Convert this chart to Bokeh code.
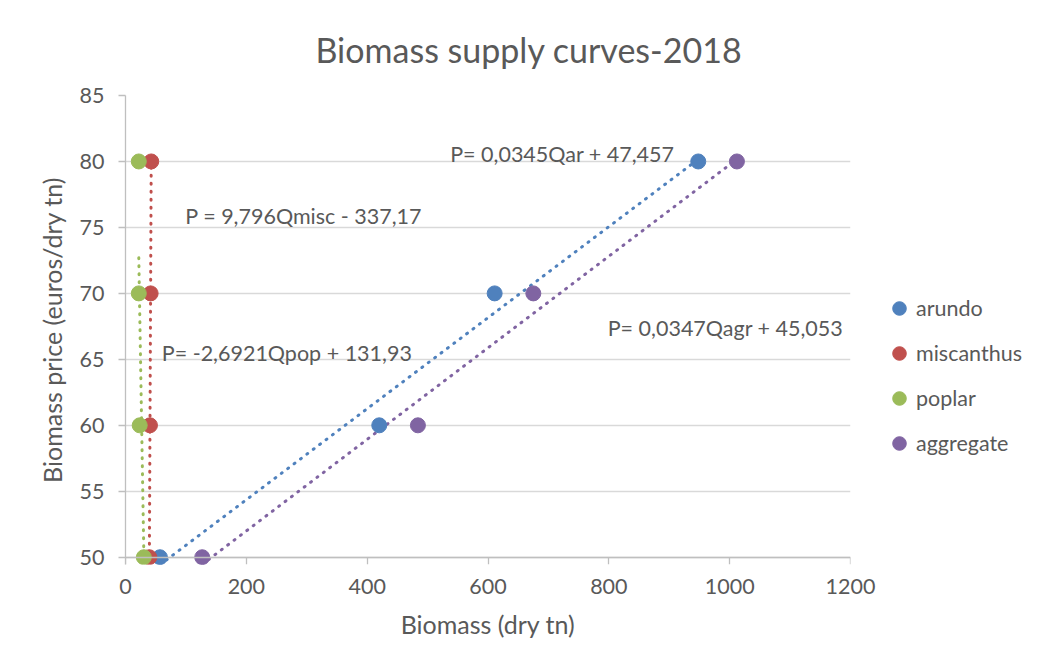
from bokeh.plotting import figure
from bokeh.models import (Range1d, FixedTicker, Label, Legend, LegendItem,
                          LinearAxis, CustomJSTickFormatter)
from bokeh.embed import file_html
from bokeh.resources import INLINE

# ---- data ----
series_names = ["arundo", "miscanthus", "poplar", "aggregate"]
price = [80, 70, 60, 50]
arundo = [948, 611, 420, 57]
miscanthus = [42.6, 41.6, 40.5, 39.5]
poplar = [22, 22, 23.5, 30.3]
aggregate = [1012, 675, 484, 127]
slopes = [0.0345, 9.796, -2.6921, 0.0347]
intercepts = [47.457, -337.17, 131.93, 45.053]
equations = ["P= 0,0345Qar + 47,457", "P = 9,796Qmisc - 337,17",
             "P= -2,6921Qpop + 131,93", "P= 0,0347Qagr + 45,053"]
x_ticks = [0, 200, 400, 600, 800, 1000, 1200]
y_ticks = [50, 55, 60, 65, 70, 75, 80, 85]
title_text = "Biomass supply curves-2018"
x_title = "Biomass (dry tn)"
y_title = "Biomass price (euros/dry tn)"

colors = ["#4F81BD", "#C0504D", "#9BBB59", "#8064A2"]
TXT = "#595959"
FONT = "Lato"
AX = "#BFBFBF"

p = figure(frame_width=725, frame_height=469,
           min_border_left=125, min_border_right=186,
           min_border_top=95, min_border_bottom=104,
           x_range=Range1d(0, 1200), y_range=Range1d(49.45, 85),
           output_backend="svg", toolbar_location=None)
p.outline_line_color = None
p.background_fill_color = "white"
p.border_fill_color = "white"

# title
p.title.text = title_text
p.title.align = "left"
p.title.offset = 190
p.title.text_font = FONT
p.title.text_font_size = "34px"
p.title.text_font_style = "normal"
p.title.text_color = TXT
p.title.standoff = 52

# grid
p.xgrid.visible = False
p.ygrid.ticker = FixedTicker(ticks=y_ticks)
p.ygrid.grid_line_color = "#D9D9D9"
p.ygrid.grid_line_width = 1.3

# y axis
ya = p.yaxis[0]
ya.ticker = FixedTicker(ticks=y_ticks)
ya.axis_line_color = AX
ya.axis_line_width = 1.3
ya.major_tick_line_color = AX
ya.major_tick_line_width = 1.3
ya.major_tick_in = 0
ya.major_tick_out = 7
ya.minor_tick_line_color = None
ya.major_label_text_font = FONT
ya.major_label_text_font_size = "21.5px"
ya.major_label_text_color = TXT
ya.major_label_standoff = 14
ya.axis_label = y_title
ya.axis_label_text_font = FONT
ya.axis_label_text_font_size = "25px"
ya.axis_label_text_font_style = "normal"
ya.axis_label_text_color = TXT
ya.axis_label_standoff = 10

# x axis: labels (at frame bottom)
xa = p.xaxis[0]
xa.ticker = FixedTicker(ticks=x_ticks)
xa.axis_line_color = None
xa.major_tick_line_color = None
xa.major_tick_in = 0
xa.major_tick_out = 0
xa.minor_tick_line_color = None
xa.major_label_text_font = FONT
xa.major_label_text_font_size = "21.5px"
xa.major_label_text_color = TXT
xa.major_label_standoff = 14
xa.axis_label = x_title
xa.axis_label_text_font = FONT
xa.axis_label_text_font_size = "25px"
xa.axis_label_text_font_style = "normal"
xa.axis_label_text_color = TXT
xa.axis_label_standoff = 12

# x axis line + ticks at P = 50
xline = LinearAxis(fixed_location=50, ticker=FixedTicker(ticks=x_ticks),
                   formatter=CustomJSTickFormatter(code="return ''"),
                   axis_line_color=AX, axis_line_width=1.3,
                   major_tick_line_color=AX, major_tick_line_width=1.3,
                   major_tick_in=0, major_tick_out=7,
                   minor_tick_line_color=None)
p.add_layout(xline, "below")

# series + trendlines
series_x = [arundo, miscanthus, poplar, aggregate]
items = []
for name, xs, col, a, b in zip(series_names, series_x, colors, slopes, intercepts):
    lx = [min(xs), max(xs)]
    ly = [a * v + b for v in lx]
    p.line(lx, ly, line_color=col, line_width=3, line_dash="1 7", line_cap="round")
for name, xs, col in zip(series_names, series_x, colors):
    r = p.scatter(xs, price, size=15, marker="circle", fill_color=col, line_color=col)
    items.append(LegendItem(label=name, renderers=[r]))

legend = Legend(items=items, location=(32, 102),
                glyph_width=34, glyph_height=38, label_standoff=0,
                spacing=7, padding=0, margin=0,
                border_line_color=None, background_fill_alpha=0,
                label_text_font=FONT, label_text_font_size="21.5px",
                label_text_color=TXT)
p.add_layout(legend, "right")

# equation labels (data positions)
eq_pos = [(723, 80.6), (295, 75.9), (267, 65.45), (993, 67.4)]
for txt, (ex, ey) in zip(equations, eq_pos):
    p.add_layout(Label(x=ex, y=ey, text=txt, text_align="center",
                       text_baseline="alphabetic", text_font=FONT,
                       text_font_size="21.5px", text_color=TXT))

open("out.html", "w").write(file_html(p, INLINE))
